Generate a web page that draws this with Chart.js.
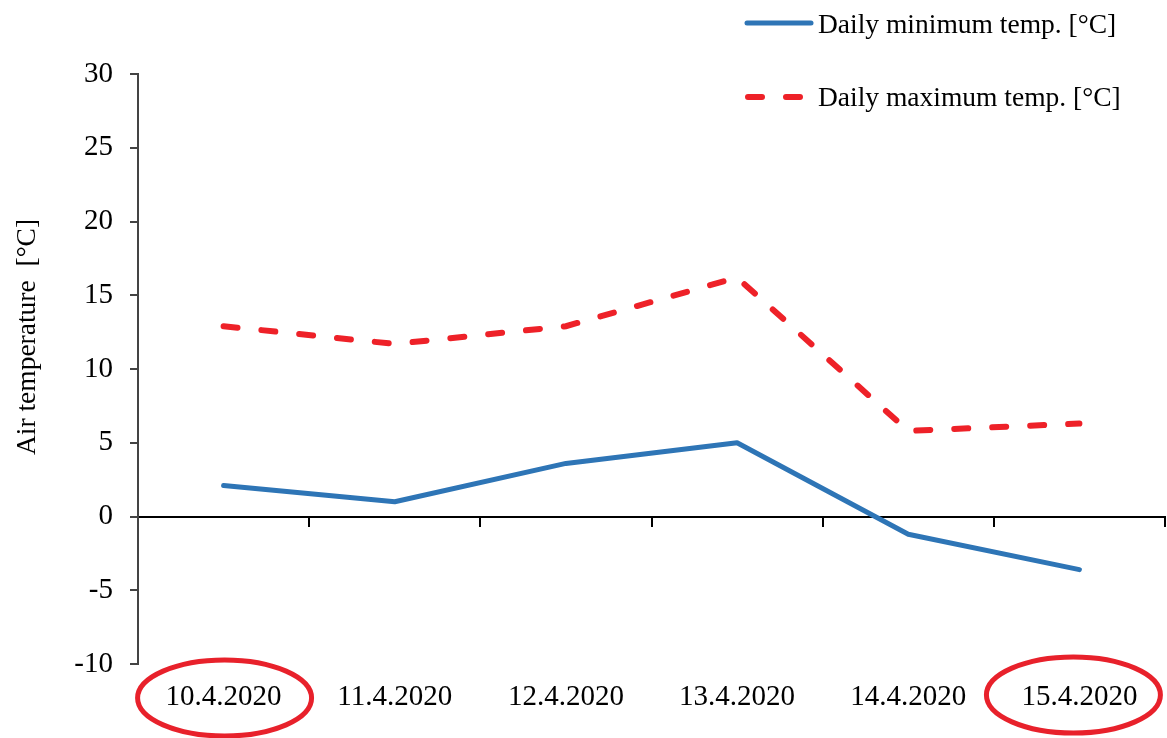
<!DOCTYPE html>
<html>
<head>
<meta charset="utf-8">
<script src="https://cdn.jsdelivr.net/npm/chart.js@4/dist/chart.umd.min.js"></script>
<style>
  html, body { margin: 0; padding: 0; background: #fff; }
  #wrap { width: 1167px; height: 738px; }
</style>
</head>
<body>
<div id="wrap"><canvas id="c" width="1167" height="738"></canvas></div>
<script>
const categories = ['10.4.2020', '11.4.2020', '12.4.2020', '13.4.2020', '14.4.2020', '15.4.2020'];
const dailyMin = [2.1, 1.0, 3.6, 5.0, -1.2, -3.6];
const dailyMax = [12.9, 11.7, 12.9, 16.2, 5.8, 6.3];
const yTicks = [-10, -5, 0, 5, 10, 15, 20, 25, 30];
const seriesLabels = ['Daily minimum temp. [°C]', 'Daily maximum temp. [°C]'];
const yTitle = 'Air temperature  [°C]';
const circledCategories = [0, 5];

const FONT = "'Liberation Serif', 'Times New Roman', serif";

const decorPlugin = {
  id: 'decor',
  afterDraw(chart) {
    const ctx = chart.ctx;
    const xs = chart.scales.x;
    // Y axis title
    ctx.save();
    ctx.font = '27.5px ' + FONT;
    ctx.fillStyle = '#000';
    ctx.textAlign = 'center';
    ctx.textBaseline = 'alphabetic';
    ctx.translate(35, 337);
    ctx.rotate(-Math.PI / 2);
    ctx.fillText(yTitle, 0, 0);
    ctx.restore();

    // Legend
    const ds = chart.data.datasets;
    const legendRows = [{lineY: 23, baseY: 33}, {lineY: 97, baseY: 106}];
    ds.forEach((d, i) => {
      const r = legendRows[i];
      ctx.save();
      ctx.strokeStyle = d.borderColor;
      ctx.lineWidth = d.borderWidth;
      ctx.lineCap = 'round';
      ctx.setLineDash(d.borderDash || []);
      ctx.beginPath();
      if (d.borderDash) { ctx.moveTo(748, r.lineY); ctx.lineTo(803, r.lineY); }
      else { ctx.moveTo(747, r.lineY); ctx.lineTo(811, r.lineY); }
      ctx.stroke();
      ctx.setLineDash([]);
      ctx.font = '27.5px ' + FONT;
      ctx.fillStyle = '#000';
      ctx.textAlign = 'left';
      ctx.textBaseline = 'alphabetic';
      ctx.fillText(d.label, 818, r.baseY);
      ctx.restore();
    });

    // Red ellipses around highlighted category labels
    const offs = {0: [1, 698], 5: [-6, 695]};
    circledCategories.forEach(idx => {
      const cx = xs.getPixelForValue(idx) + offs[idx][0];
      const cy = offs[idx][1];
      ctx.save();
      ctx.strokeStyle = '#e8212b';
      ctx.lineWidth = 5;
      ctx.beginPath();
      ctx.ellipse(cx, cy, 87, 38, 0, 0, Math.PI * 2);
      ctx.stroke();
      ctx.restore();
    });
  }
};

new Chart(document.getElementById('c'), {
  type: 'line',
  data: {
    labels: categories,
    datasets: [
      {
        label: seriesLabels[0],
        data: dailyMin,
        borderColor: '#2e75b6',
        borderWidth: 5,
        pointRadius: 0,
        tension: 0,
        borderCapStyle: 'round',
        borderJoinStyle: 'round'
      },
      {
        label: seriesLabels[1],
        data: dailyMax,
        borderColor: '#ee2128',
        borderWidth: 6,
        borderDash: [14, 24],
        borderCapStyle: 'round',
        pointRadius: 0,
        tension: 0
      }
    ]
  },
  options: {
    responsive: false,
    animation: false,
    layout: { padding: { top: 74, right: 2, left: 0, bottom: 0 } },
    plugins: { legend: { display: false }, tooltip: { enabled: false } },
    scales: {
      x: {
        type: 'category',
        position: 'bottom',
        offset: true,
        grid: { display: false, drawTicks: false },
        border: { display: false },
        ticks: { color: '#000', font: { family: FONT, size: 29 }, padding: 16, maxRotation: 0, autoSkip: false },
        afterFit: s => { s.height = 74; }
      },
      x2: {
        type: 'category',
        axis: 'x',
        labels: categories,
        position: { y: 0 },
        offset: true,
        grid: { display: true, drawOnChartArea: false, drawTicks: true, tickLength: 9, offset: true, color: '#000', lineWidth: 2 },
        border: { display: true, color: '#000', width: 2 },
        ticks: { display: false }
      },
      y: {
        min: -10,
        max: 30,
        afterBuildTicks: s => { s.ticks = yTicks.map(v => ({ value: v })); },
        grid: { display: true, drawOnChartArea: false, drawTicks: true, tickLength: 8, color: '#444', lineWidth: 2 },
        border: { display: true, color: '#444', width: 2 },
        ticks: { color: '#000', font: { family: FONT, size: 29 }, padding: 17 },
        afterFit: s => { s.width = 138; }
      }
    }
  },
  plugins: [decorPlugin]
});
</script>
</body>
</html>
